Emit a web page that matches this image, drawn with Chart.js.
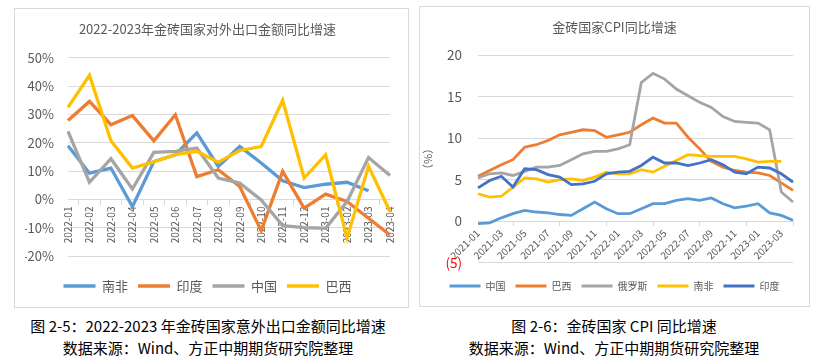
<!DOCTYPE html>
<html>
  <head>
    <meta charset="utf-8">
    <title>金砖国家出口与CPI</title>
    <script src="https://cdn.jsdelivr.net/npm/chart.js"></script>
    <style>
      body {
        margin: 0;
        width: 817px;
        height: 364px;
        background: #ffffff;
        position: relative;
        overflow: hidden;
        font-family: "Noto Sans CJK SC", sans-serif;
      }
      .box {
        position: absolute;
        border: 1px solid #d9d9d9;
        box-sizing: border-box;
      }
      .box canvas {
        display: block;
      }
      .caption {
        position: absolute;
        text-align: center;
        font-size: 15px;
        color: #000000;
        line-height: 22px;
        white-space: nowrap;
      }
    </style>
  </head>
  <body>
    <div class="box" style="left:14px; top:8px; width:395px; height:300px;">
      <canvas id="exportChart" width="393" height="298"></canvas>
    </div>
    <div class="box" style="left:419px; top:6px; width:391px; height:301px;">
      <canvas id="cpiChart" width="389" height="299"></canvas>
    </div>

    <div class="caption" style="left:8px; width:400px; top:315px;">
      图 2-5：2022-2023 年金砖国家意外出口金额同比增速<br>数据来源：Wind、方正中期期货研究院整理
    </div>
    <div class="caption" style="left:414px; width:400px; top:315px;">
      图 2-6：金砖国家 CPI 同比增速<br>数据来源：Wind、方正中期期货研究院整理
    </div>

    <script>
      // ---- left chart: export growth, % yoy ----
      const exportMonths = [
        "2022-01", "2022-02", "2022-03", "2022-04", "2022-05", "2022-06",
        "2022-07", "2022-08", "2022-09", "2022-10", "2022-11", "2022-12",
        "2023-01", "2023-02", "2023-03", "2023-04",
      ];
      const exportSouthAfrica = [19, 9.3, 11.1, -2.5, 13.4, 15.8, 23.5, 11.7, 18.7, 12.9, 6.6, 4.2, 5.4, 6.1, 3.1, null];
      const exportIndia = [27.9, 34.6, 26.4, 29.6, 20.7, 29.9, 8.1, 10.5, 4.6, -11, 9.9, -3, 1.9, -0.7, -6.6, -12.5];
      const exportChina = [24, 6.1, 14.4, 3.7, 16.6, 17, 18.2, 7.6, 5.8, -0.1, -9.2, -9.9, -10.1, -0.7, 14.8, 8.5];
      const exportBrazil = [32.5, 43.8, 20.7, 11.1, 13.3, 15.8, 17, 13.2, 17.3, 18.7, 35, 7.6, 15.8, -13.6, 11.7, -4.2];

      // ---- right chart: CPI yoy ----
      const cpiMonths = [
        "2021-01", "2021-02", "2021-03", "2021-04", "2021-05", "2021-06", "2021-07",
        "2021-08", "2021-09", "2021-10", "2021-11", "2021-12", "2022-01", "2022-02",
        "2022-03", "2022-04", "2022-05", "2022-06", "2022-07", "2022-08", "2022-09",
        "2022-10", "2022-11", "2022-12", "2023-01", "2023-02", "2023-03", "2023-04",
      ];
      const cpiChina = [-0.3, -0.2, 0.4, 0.9, 1.3, 1.1, 1.0, 0.8, 0.7, 1.5, 2.3, 1.5, 0.9, 0.9, 1.5, 2.1, 2.1, 2.5, 2.7, 2.5, 2.8, 2.1, 1.6, 1.8, 2.1, 1.0, 0.7, 0.1];
      const cpiBrazil = [5.4, 6.1, 6.8, 7.4, 8.9, 9.2, 9.7, 10.4, 10.7, 11.0, 10.9, 10.1, 10.4, 10.7, 11.6, 12.4, 11.8, 11.8, 10.1, 8.7, 7.2, 6.5, 6.1, 5.9, 5.8, 5.5, 4.6, 3.7];
      const cpiRussia = [5.2, 5.7, 5.8, 5.5, 6.0, 6.5, 6.5, 6.7, 7.4, 8.1, 8.4, 8.4, 8.7, 9.2, 16.7, 17.8, 17.1, 15.9, 15.1, 14.3, 13.7, 12.6, 12.0, 11.9, 11.8, 11.0, 3.5, 2.3];
      const cpiSouthAfrica = [3.3, 2.9, 3.0, 4.1, 5.2, 5.1, 4.7, 5.0, 5.1, 4.9, 5.3, 5.9, 5.7, 5.7, 6.2, 5.9, 6.6, 7.3, 8.0, 7.9, 7.8, 7.8, 7.8, 7.5, 7.1, 7.2, 7.2, null];
      const cpiIndia = [4.0, 4.9, 5.4, 4.1, 6.3, 6.2, 5.6, 5.3, 4.4, 4.5, 4.8, 5.7, 5.9, 6.0, 6.7, 7.7, 7.0, 7.0, 6.7, 7.0, 7.4, 6.8, 5.9, 5.7, 6.5, 6.4, 5.7, 4.7];

      // excel-ish palette
      const BLUE = "#5B9BD5";
      const ORANGE = "#ED7D31";
      const GREY = "#A5A5A5";
      const YELLOW = "#FFC000";
      const DARKBLUE = "#4472C4";
      const TEXT = "#595959";
      const GRID = "#d9d9d9";

      Chart.defaults.font.family = '"Noto Sans CJK SC", "Noto Sans", sans-serif';
      Chart.defaults.color = TEXT;

      // series later in the list are painted on top, like the original
      function line(label, data, color, width, order) {
        return {
          label: label,
          data: data,
          borderColor: color,
          backgroundColor: color,
          borderWidth: width,
          pointRadius: 0,
          pointHoverRadius: 0,
          tension: 0,
          order: order,
        };
      }

      // legend with line samples, kept in dataset order
      function lineLegend(fontSize, lineLen, gapAbove) {
        return {
          position: "bottom",
          title: { display: true, text: "", font: { size: 1, lineHeight: 1 }, padding: { top: gapAbove, bottom: 0 } },
          labels: {
            usePointStyle: true,
            pointStyle: "line",
            pointStyleWidth: lineLen,
            font: { size: fontSize },
            color: TEXT,
            padding: 10,
            sort: (a, b) => a.datasetIndex - b.datasetIndex,
          },
        };
      }

      // 1. export growth
      new Chart(document.getElementById("exportChart"), {
        type: "line",
        data: {
          labels: exportMonths,
          datasets: [
            line("南非", exportSouthAfrica, BLUE, 3.3, 4),
            line("印度", exportIndia, ORANGE, 3.3, 3),
            line("中国", exportChina, GREY, 3.3, 2),
            line("巴西", exportBrazil, YELLOW, 3.3, 1),
          ],
        },
        options: {
          responsive: false,
          animation: false,
          layout: { padding: { left: 10, right: 18, top: 0, bottom: 4.5 } },
          plugins: {
            title: {
              display: true,
              text: "2022-2023年金砖国家对外出口金额同比增速",
              font: { size: 13, weight: "normal" },
              color: TEXT,
              padding: { top: 12.5, bottom: 20.6 },
            },
            legend: lineLegend(13, 32, 12.2),
            tooltip: { enabled: false },
          },
          scales: {
            x: {
              position: { y: 0 },
              grid: { drawOnChartArea: false, drawTicks: true, tickLength: 5, offset: true, color: GRID },
              border: { color: GRID },
              ticks: { autoSkip: false, minRotation: 90, maxRotation: 90, padding: 2, font: { size: 10 }, color: TEXT },
            },
            y: {
              min: -20,
              max: 50,
              afterFit: (scale) => { scale.width = 43; },
              grid: { color: GRID, drawTicks: false },
              border: { display: false },
              ticks: { stepSize: 10, padding: 14, font: { size: 13 }, color: TEXT, callback: (v) => v + "%" },
            },
          },
        },
      });

      // 2. CPI
      new Chart(document.getElementById("cpiChart"), {
        type: "line",
        data: {
          labels: cpiMonths,
          datasets: [
            line("中国", cpiChina, BLUE, 2.8, 5),
            line("巴西", cpiBrazil, ORANGE, 2.8, 4),
            line("俄罗斯", cpiRussia, GREY, 2.8, 3),
            line("南非", cpiSouthAfrica, YELLOW, 2.8, 2),
            line("印度", cpiIndia, DARKBLUE, 2.8, 1),
          ],
        },
        options: {
          responsive: false,
          animation: false,
          layout: { padding: { left: 16, right: 16, top: 0, bottom: 5 } },
          plugins: {
            title: {
              display: true,
              text: "金砖国家CPI同比增速",
              font: { size: 13, weight: "normal" },
              color: TEXT,
              padding: { top: 11.9, bottom: 20.5 },
            },
            legend: lineLegend(10, 31, 7.3),
            tooltip: { enabled: false },
          },
          scales: {
            x: {
              position: { y: 0 },
              grid: { drawOnChartArea: false, drawTicks: true, tickLength: 4, offset: true, color: GRID },
              border: { color: GRID },
              ticks: { autoSkip: true, maxTicksLimit: 14, minRotation: 45, maxRotation: 45, padding: 2, font: { size: 10 }, color: TEXT },
            },
            y: {
              min: -5,
              max: 20,
              afterFit: (scale) => { scale.width = 42; },
              title: { display: true, text: "（%）", font: { size: 11 }, color: TEXT, padding: { top: -15, bottom: 0 } },
              grid: { color: GRID, drawTicks: false },
              border: { display: false },
              ticks: {
                stepSize: 5,
                padding: 16,
                font: { size: 13.5 },
                color: (ctx) => (ctx.tick && ctx.tick.value < 0 ? "#FF0000" : TEXT),
                callback: (v) => (v < 0 ? "(" + Math.abs(v) + ")" : v),
              },
            },
          },
        },
      });
    </script>
  </body>
</html>
